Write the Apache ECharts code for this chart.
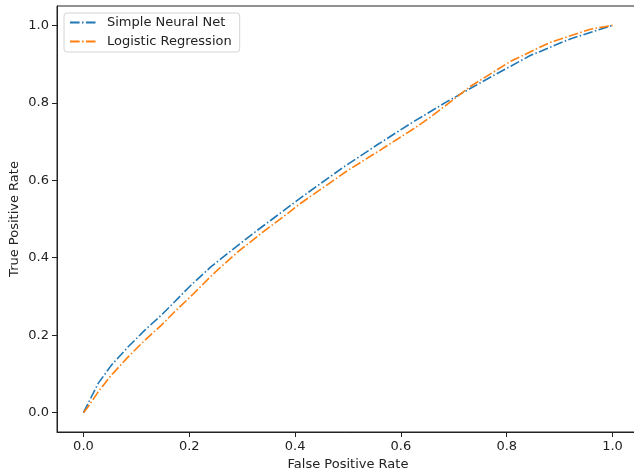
<!DOCTYPE html>
<html>
<head>
<meta charset="utf-8">
<script src="https://cdn.jsdelivr.net/npm/echarts@6/dist/echarts.min.js"></script>
<style>html,body{margin:0;padding:0;background:#fff;}#c{width:634px;height:469px;}</style>
</head>
<body>
<div id="c"></div>
<script>
const seriesNames = ['Simple Neural Net', 'Logistic Regression'];
const nnFpr = [0, 0.0151, 0.0278, 0.0529, 0.0845, 0.116, 0.1474, 0.1728, 0.2017, 0.2396, 0.2836, 0.3278, 0.372, 0.416, 0.4915, 0.5546, 0.6176, 0.687, 0.769, 0.8444, 0.92, 1.0];
const nnTpr = [0, 0.041, 0.0755, 0.1227, 0.170, 0.213, 0.252, 0.287, 0.327, 0.375, 0.423, 0.470, 0.515, 0.560, 0.634, 0.691, 0.746, 0.803, 0.866, 0.922, 0.965, 1.0];
const lrFpr = [0, 0.0089, 0.0278, 0.0529, 0.0845, 0.116, 0.1474, 0.1728, 0.208, 0.246, 0.29, 0.334, 0.378, 0.41, 0.498, 0.561, 0.624, 0.655, 0.731, 0.807, 0.882, 0.958, 1.0];
const lrTpr = [0, 0.015, 0.0537, 0.097, 0.144, 0.187, 0.226, 0.261, 0.307, 0.359, 0.413, 0.461, 0.506, 0.540, 0.624, 0.678, 0.733, 0.762, 0.842, 0.907, 0.956, 0.990, 1.0];
const tickValues = [0, 0.2, 0.4, 0.6, 0.8, 1.0];
const xTitle = 'False Positive Rate';
const yTitle = 'True Positive Rate';

const font = 'DejaVu Sans';
const dashDot = [9.6, 2.4, 1.5, 2.4];
const zip = (a, b) => a.map((v, i) => [v, b[i]]);

const axisCommon = {
  type: 'value', min: -0.05, max: 1.05,
  splitLine: {show: false},
  axisLine: {show: true, onZero: false, lineStyle: {color: '#222', width: 1}},
  axisTick: {show: true, length: 5, customValues: tickValues, lineStyle: {color: '#222', width: 1}},
  axisLabel: {customValues: tickValues, formatter: v => v.toFixed(1), color: '#222', fontFamily: font, fontSize: 13},
  nameLocation: 'middle',
  nameMoveOverlap: false,
  nameTextStyle: {color: '#222', fontFamily: font, fontSize: 13}
};

const chart = echarts.init(document.getElementById('c'), null, {renderer: 'canvas'});
chart.setOption({
  animation: false,
  backgroundColor: '#fff',
  grid: {left: 57, top: 6, width: 582, height: 426, show: true, borderColor: '#222', borderWidth: 1, containLabel: false, outerBoundsMode: 'none'},
  xAxis: Object.assign({}, axisCommon, {name: xTitle, nameGap: 26, axisLabel: Object.assign({}, axisCommon.axisLabel, {margin: 8})}),
  yAxis: Object.assign({}, axisCommon, {name: yTitle, nameGap: 36, axisLabel: Object.assign({}, axisCommon.axisLabel, {margin: 8})}),
  legend: {
    orient: 'vertical', left: 64, top: 13,
    padding: [3, 8, 4, 5], itemGap: 6, itemWidth: 26, itemHeight: 14,
    borderColor: '#d4d4d4', borderWidth: 1, borderRadius: 3,
    backgroundColor: 'rgba(255,255,255,0.8)',
    itemStyle: {opacity: 0},
    textStyle: {fontFamily: font, fontSize: 13, color: '#222', padding: [0, 0, 0, 6]},
    data: seriesNames
  },
  series: [
    {name: seriesNames[0], type: 'line', data: zip(nnFpr, nnTpr), showSymbol: false, symbol: 'none', smooth: false,
     itemStyle: {color: '#1f77b4'}, lineStyle: {color: '#1f77b4', width: 1.6, type: dashDot, cap: 'butt'}},
    {name: seriesNames[1], type: 'line', data: zip(lrFpr, lrTpr), showSymbol: false, symbol: 'none', smooth: false,
     itemStyle: {color: '#ff7f0e'}, lineStyle: {color: '#ff7f0e', width: 1.6, type: dashDot, cap: 'butt'}}
  ]
});
</script>
</body>
</html>
